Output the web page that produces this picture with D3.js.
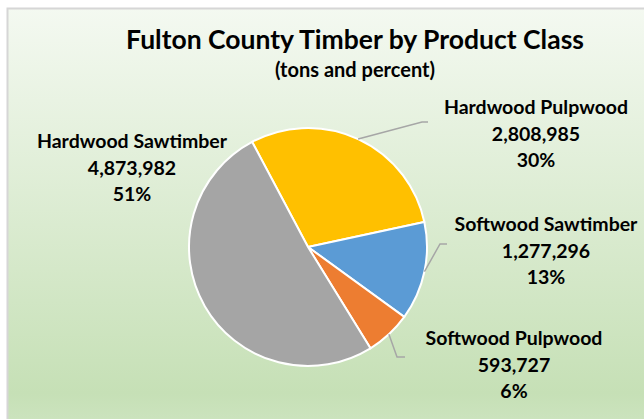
<!DOCTYPE html>
<html>
<head>
<meta charset="utf-8">
<script src="https://cdn.jsdelivr.net/npm/d3@7"></script>
<style>
  html, body { margin: 0; padding: 0; background: #fff; }
  svg { display: block; font-family: Lato, "Open Sans", sans-serif; }
</style>
</head>
<body>
<script>
const width = 644,
    height = 419;

// data
const categories = ['Hardwood Pulpwood', 'Softwood Sawtimber', 'Softwood Pulpwood', 'Hardwood Sawtimber'];
const tons = [2808985, 1277296, 593727, 4873982];
const percents = ['30%', '13%', '6%', '51%'];
const colors = ['#FFC000', '#5B9BD5', '#ED7D31', '#A5A5A5'];

const title = 'Fulton County Timber by Product Class';
const subtitle = '(tons and percent)';

// layout
const cx = 308, cy = 247, radius = 119;
const startAngle = -28 * Math.PI / 180;
const labelPos = [
    {x: 536, y: 114, leader: [[422, 122], [428, 122]]},
    {x: 546, y: 231, leader: [[440, 244], [447, 244]]},
    {x: 514, y: 345, leader: [[397, 357], [405, 357]]},
    {x: 132, y: 148, leader: null}
];
const lineGap = 26.5;

const svg = d3.select('body').append('svg')
    .attr('width', width)
    .attr('height', height)
    ;

const grad = svg.append('defs').append('linearGradient')
    .attr('id', 'bg')
    .attr('x1', 0).attr('y1', 0)
    .attr('x2', 0).attr('y2', 1)
    ;
grad.append('stop').attr('offset', '0%').attr('stop-color', '#f4f9f1');
grad.append('stop').attr('offset', '92%').attr('stop-color', '#c6e0b6');
grad.append('stop').attr('offset', '100%').attr('stop-color', '#cde4c0');

// chart area with frame
svg.append('rect')
    .attr('x', 7).attr('y', 8)
    .attr('width', width).attr('height', height)
    .attr('fill', 'url(#bg)')
    ;
svg.append('path')
    .attr('d', `M7.5,${height}V8.5H${width}`)
    .attr('fill', 'none')
    .attr('stroke', '#d6d6d6')
    .attr('stroke-width', 2)
    ;

svg.append('text')
    .attr('x', 355).attr('y', 49)
    .attr('text-anchor', 'middle')
    .attr('font-size', 26.5)
    .attr('font-weight', 700)
    .attr('fill', '#000')
    .text(title);

svg.append('text')
    .attr('x', 355).attr('y', 77)
    .attr('text-anchor', 'middle')
    .attr('font-size', 20)
    .attr('font-weight', 700)
    .attr('fill', '#000')
    .text(subtitle);

const pie = d3.pie()
    .sort(null)
    .startAngle(startAngle)
    .endAngle(startAngle + 2 * Math.PI)
    ;
const arcs = pie(tons);

const arc = d3.arc().innerRadius(0).outerRadius(radius);

const g = svg.append('g')
    .attr('transform', `translate(${cx},${cy})`);

g.selectAll('path.slice')
    .data(arcs)
    .enter()
    .append('path')
    .attr('class', 'slice')
    .attr('d', arc)
    .attr('fill', (d, i) => colors[i])
    .attr('stroke', '#fff')
    .attr('stroke-width', 2)
    ;

// leader lines from slice edge to label
const leaderLine = d3.line();
arcs.forEach((d, i) => {
    const lp = labelPos[i];
    if (!lp.leader) return;
    const mid = (d.startAngle + d.endAngle) / 2;
    const start = [cx + radius * Math.sin(mid), cy - radius * Math.cos(mid)];
    svg.append('path')
        .attr('d', leaderLine([start].concat(lp.leader)))
        .attr('fill', 'none')
        .attr('stroke', '#a6a6a6')
        .attr('stroke-width', 1.5)
        ;
});

const fmt = d3.format(',');
const labels = svg.append('g').selectAll('text.label')
    .data(arcs)
    .enter()
    .append('text')
    .attr('class', 'label')
    .attr('text-anchor', 'middle')
    .attr('font-size', 19.5)
    .attr('font-weight', 700)
    .attr('fill', '#000')
    ;
labels.each(function(d, i) {
    const t = d3.select(this);
    const lp = labelPos[i];
    [categories[i], fmt(tons[i]), percents[i]].forEach((s, k) => {
        t.append('tspan')
            .attr('x', lp.x)
            .attr('y', lp.y + k * lineGap)
            .text(s);
    });
});
</script>
</body>
</html>
